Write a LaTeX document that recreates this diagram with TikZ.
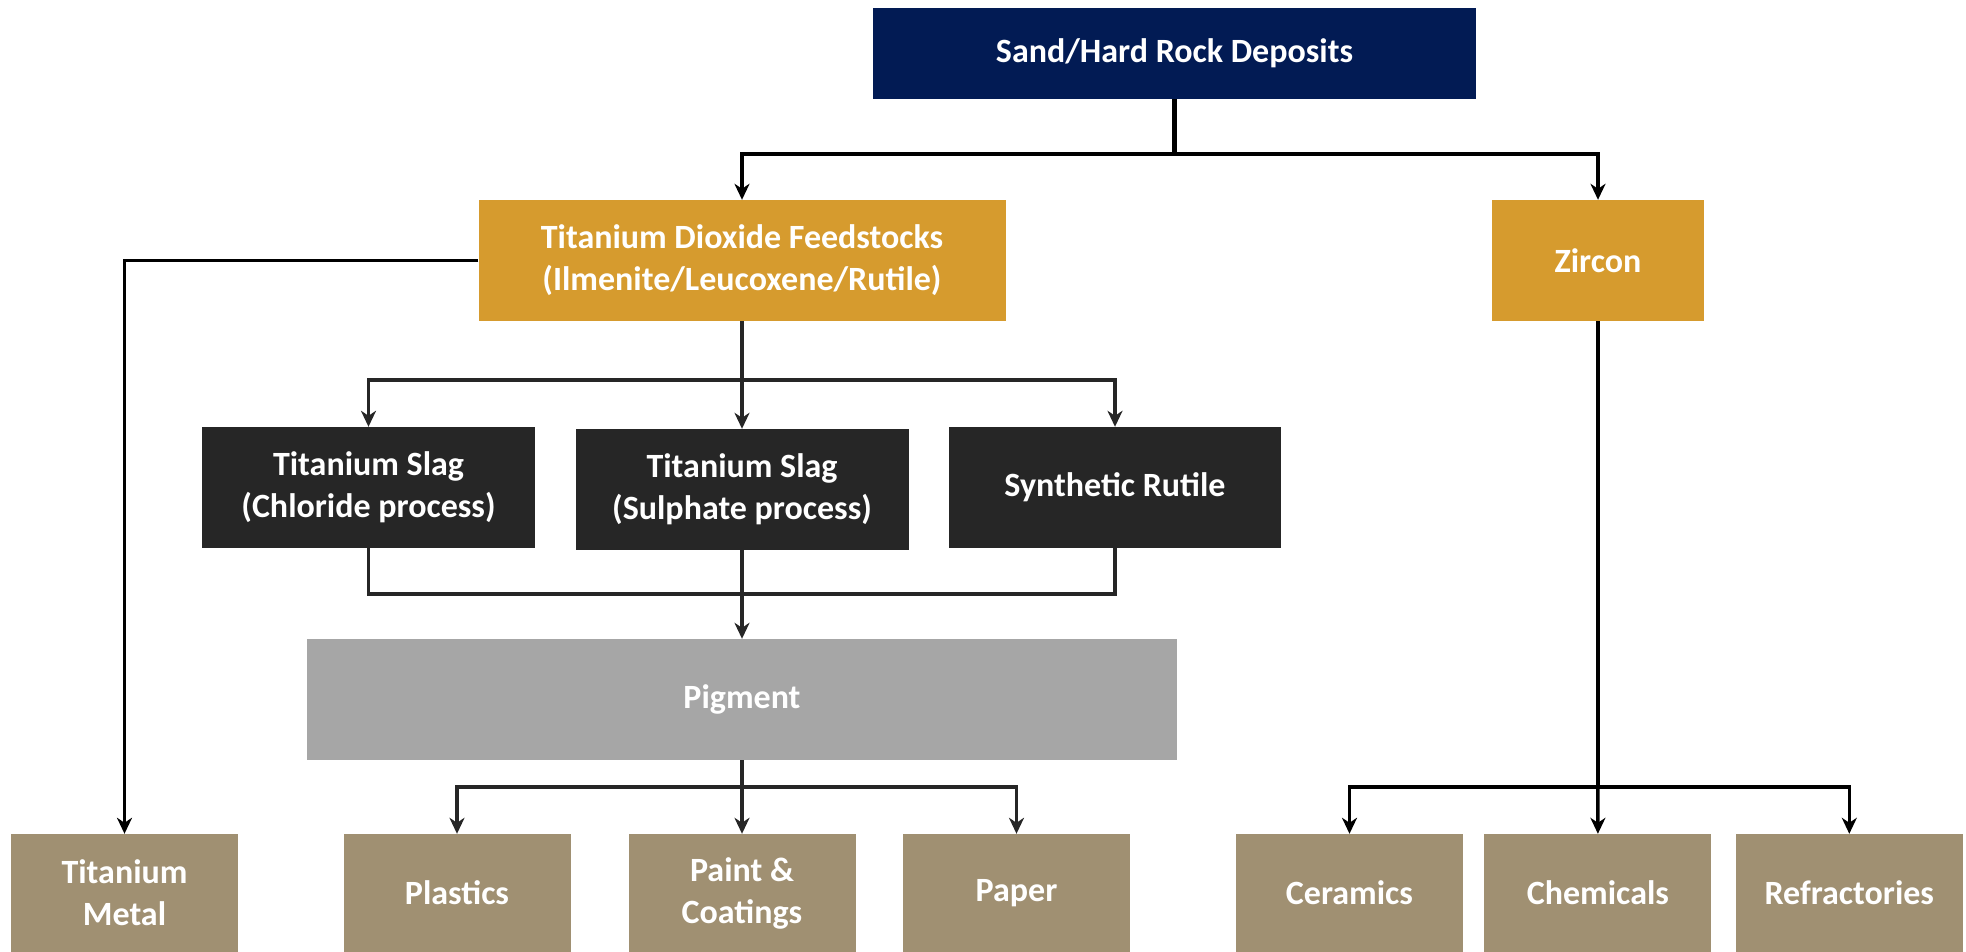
\documentclass[tikz,border=0pt]{standalone}
\usepackage{fontspec}
\setmainfont{Carlito}
\usetikzlibrary{arrows.meta,positioning}
\definecolor{deposit}{RGB}{2,27,84}
\definecolor{feed}{RGB}{214,155,46}
\definecolor{slag}{RGB}{38,38,38}
\definecolor{pig}{RGB}{166,166,166}
\definecolor{usage}{RGB}{160,144,114}
\definecolor{wire}{RGB}{38,38,38}
\begin{document}
\begin{tikzpicture}[x=1pt,y=-1pt,
				box/.style = {rectangle, inner sep = 0pt, align = center, text = white,
					font = \fontsize{34}{42}\selectfont\bfseries},
				main node/.style = {box, minimum height = 121pt},
				leaf node/.style = {box, fill = usage, minimum width = 227pt, minimum height = 118pt},
				arr/.style = {-{Stealth[length=16pt,width=15pt,inset=5pt]}, line width = 3.6pt, draw = wire},
				wire/.style = {line width = 3.6pt, draw = wire}]
				\useasboundingbox (0,0) rectangle (1966,951);
				
				\node[box,fill=deposit,minimum width=603pt,minimum height=91pt] (sand) at (1174.5,53.5) {Sand/Hard Rock Deposits};
				\node[main node,fill=feed,minimum width=527pt] (tio2) at (742,260.5) {Titanium Dioxide Feedstocks\\(Ilmenite/Leucoxene/Rutile)};
				\node[main node,fill=feed,minimum width=212pt] (zircon) at (1598,260.5) {Zircon};
				
				\node[main node,fill=slag,minimum width=333pt] (chloride) at (368.5,487.5) {Titanium Slag\\(Chloride process)};
				\node[main node,fill=slag,minimum width=333pt] (sulphate) at (742,489.5) {Titanium Slag\\(Sulphate process)};
				\node[main node,fill=slag,minimum width=332pt] (synth) at (1115,487.5) {Synthetic Rutile};
				\node[main node,fill=pig,minimum width=870pt] (pigment) at (742,699.5) {Pigment};
				
				\node[leaf node] (metal) at (124.5,893) {Titanium\\Metal};
				\node[leaf node] (plastics) at (457,893) {Plastics};
				\node[leaf node] (paint) at (742,893) {Paint \&\\Coatings};
				\node[leaf node] (paper) at (1016.5,893) {Paper};
				\node[leaf node] (ceramics) at (1349.5,893) {Ceramics};
				\node[leaf node,right = 21pt of ceramics] (chemicals) {Chemicals};
				\node[leaf node,right = 24pt of chemicals] (refract) {Refractories};
				
				% deposits split
				\draw[arr,draw=black,line width=4.4pt] (sand.south) -- ++(0,55) -| (tio2.north);
				\draw[arr,draw=black,line width=4.4pt] (sand.south) -- ++(0,55) -| (zircon.north);
				\draw[arr,draw=black] (tio2.west) -| (metal.north);
				
				% feedstocks to slag / rutile
				\draw[arr] (tio2.south) -- ++(0,59) -| (chloride.north);
				\draw[arr] (tio2.south) -- (sulphate.north);
				\draw[arr] (tio2.south) -- ++(0,59) -| (synth.north);
				
				% into pigment
				\coordinate (join) at (742,594);
				\draw[wire] (chloride.south) |- (join) -| (synth.south);
				\draw[arr] (sulphate.south) -- (pigment.north);
				
				% end uses
				\draw[arr] (pigment.south) -- ++(0,27) -| (plastics.north);
				\draw[arr] (pigment.south) -- (paint.north);
				\draw[arr] (pigment.south) -- ++(0,27) -| (paper.north);
				\draw[arr,draw=black] (zircon.south) -- ++(0,466) -| (ceramics.north);
				\draw[arr,draw=black] (zircon.south) -- (chemicals.north);
				\draw[arr,draw=black] (zircon.south) -- ++(0,466) -| (refract.north);
\end{tikzpicture}
\end{document}
